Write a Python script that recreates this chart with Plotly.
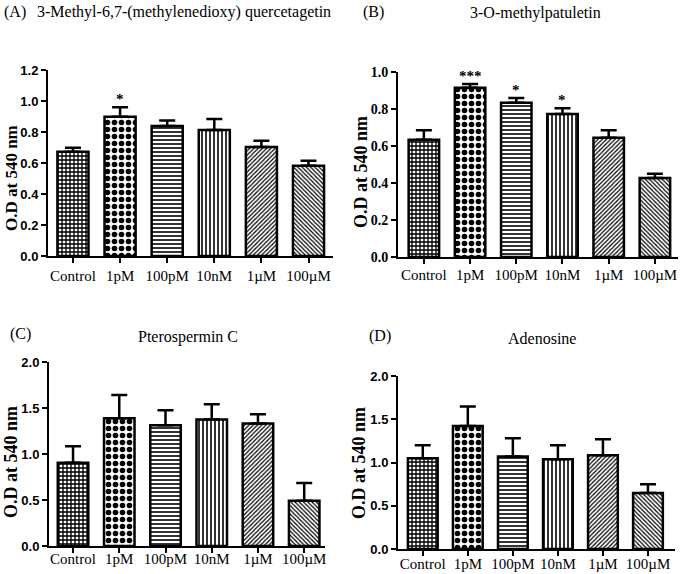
import plotly.graph_objects as go

# concentrations on the x axis
categories = ["Control", "1pM", "100pM", "10nM", "1µM", "100µM"]
positions = list(range(len(categories)))

# panel A - 3-Methyl-6,7-(methylenedioxy) quercetagetin
a_mean = [0.673, 0.899, 0.839, 0.813, 0.703, 0.583]
a_err = [0.026, 0.060, 0.036, 0.071, 0.041, 0.032]
a_stars = ["", "*", "", "", "", ""]

# panel B - 3-O-methylpatuletin
b_mean = [0.634, 0.915, 0.834, 0.773, 0.645, 0.427]
b_err = [0.051, 0.020, 0.025, 0.031, 0.040, 0.023]
b_stars = ["", "***", "*", "*", "", ""]

# panel C - Pterospermin C
c_mean = [0.904, 1.389, 1.313, 1.374, 1.331, 0.492]
c_err = [0.181, 0.253, 0.163, 0.167, 0.101, 0.192]

# panel D - Adenosine
d_mean = [1.050, 1.423, 1.069, 1.038, 1.085, 0.646]
d_err = [0.150, 0.223, 0.212, 0.162, 0.184, 0.104]

y_title = "O.D at 540 nm"

W, H = 685, 574

# fill pattern for each concentration (shape, size, solidity)
patterns = [("+", 4, 0.55), (".", 7, 0.5), ("-", 4, 0.4),
            ("|", 4, 0.4), ("/", 3, 0.4), ("\\", 3, 0.4)]

SERIF = "Liberation Serif"
SANS = "Liberation Sans"


def px_x(p):
    return p / W


def px_y(p):
    return 1 - p / H


panels = [
    dict(mean=a_mean, err=a_err, stars=a_stars, ax="", xs=(48, 333), ys=(256, 70),
         yr=[0, 1.2], dt=0.2, xr=[-0.53, 5.52], tf=SANS, tfs=13,
         ts=17, tpos=(11, 178), lo=0),
    dict(mean=b_mean, err=b_err, stars=b_stars, ax="2", xs=(398, 678), ys=(257, 72),
         yr=[0, 1.0], dt=0.2, xr=[-0.56, 5.5], tf=SERIF, tfs=14,
         ts=18, tpos=(361, 172), lo=-2),
    dict(mean=c_mean, err=c_err, stars=None, ax="3", xs=(49, 325), ys=(546, 362),
         yr=[0, 2.0], dt=0.5, xr=[-0.52, 5.45], tf=SANS, tfs=13,
         ts=18, tpos=(11, 462), lo=-7),
    dict(mean=d_mean, err=d_err, stars=None, ax="4", xs=(398, 675), ys=(549, 376),
         yr=[0, 2.0], dt=0.5, xr=[-0.55, 5.6], tf=SANS, tfs=13,
         ts=18, tpos=(359, 463), lo=-5),
]

fig = go.Figure()
layout = {}
annotations = []

for p in panels:
    xa = "x" + p["ax"]
    ya = "y" + p["ax"]
    fig.add_trace(go.Bar(
        x=positions, y=p["mean"], xaxis=xa, yaxis=ya,
        width=0.66,
        marker=dict(
            color="white",
            line=dict(color="black", width=2.5),
            pattern=dict(
                shape=[s[0] for s in patterns],
                size=[s[1] for s in patterns],
                solidity=[s[2] for s in patterns],
                fgcolor="black", bgcolor="white", fillmode="replace",
            ),
        ),
        error_y=dict(type="data", symmetric=False, array=p["err"],
                     arrayminus=[0] * len(p["err"]),
                     color="black", thickness=2.5, width=8),
        showlegend=False,
        hoverinfo="skip",
    ))

    layout["xaxis" + p["ax"]] = dict(
        domain=[px_x(p["xs"][0]), px_x(p["xs"][1])],
        anchor=ya, range=p["xr"], automargin=False,
        tickmode="array", tickvals=positions, ticktext=categories,
        showline=True, linecolor="black", linewidth=2,
        ticks="outside", ticklen=5, tickwidth=2, tickcolor="black",
        ticklabelstandoff=p["lo"],
        tickfont=dict(family=SERIF, size=15, color="black"),
        showgrid=False, zeroline=False, fixedrange=True,
    )
    layout["yaxis" + p["ax"]] = dict(
        domain=[px_y(p["ys"][0]), px_y(p["ys"][1])],
        anchor=xa, range=p["yr"], dtick=p["dt"], tickformat=".1f", automargin=False,
        showline=True, linecolor="black", linewidth=2,
        ticks="outside", ticklen=5, tickwidth=2, tickcolor="black",
        tickfont=dict(family=p["tf"], size=p["tfs"], color="black", weight="bold"),
        showgrid=False, zeroline=False, fixedrange=True,
    )

    # y axis title, placed by hand (it sits a little below the axis centre)
    annotations.append(dict(
        x=px_x(p["tpos"][0]), y=px_y(p["tpos"][1]), xref="paper", yref="paper",
        text=y_title, textangle=-90, showarrow=False,
        xanchor="center", yanchor="middle",
        font=dict(family=SERIF, size=p["ts"], color="black", weight="bold"),
    ))

    if p["stars"]:
        for x, m, e, s in zip(positions, p["mean"], p["err"], p["stars"]):
            if s:
                annotations.append(dict(
                    x=x, y=m + e, xref=xa, yref=ya, text=s, showarrow=False,
                    yanchor="bottom", yshift=-2,
                    font=dict(family=SERIF, size=15, color="black", weight="bold"),
                ))

# panel labels and titles (pixel positions converted to paper)
titles = [
    ("(A)", 2, 12, "left"),
    ("3-Methyl-6,7-(methylenedioxy) quercetagetin", 35, 12, "left"),
    ("(B)", 361, 12, "left"),
    ("3-O-methylpatuletin", 535, 13, "center"),
    ("(C)", 8, 334, "left"),
    ("Pterospermin C", 188, 337, "center"),
    ("(D)", 367, 336, "left"),
    ("Adenosine", 542, 338, "center"),
]
for text, x, y, anchor in titles:
    annotations.append(dict(
        x=px_x(x), y=px_y(y), xref="paper", yref="paper", text=text,
        showarrow=False, xanchor=anchor, yanchor="middle",
        font=dict(family=SERIF, size=16, color="black"),
    ))

fig.update_layout(
    width=W, height=H,
    margin=dict(l=0, r=0, t=0, b=0, autoexpand=False),
    paper_bgcolor="white", plot_bgcolor="white",
    annotations=annotations,
    **layout,
)

# drop the page's default body margin so the figure sits at the window corner
fig.write_html("out.html", config={"displayModeBar": False},
               post_script="document.body.style.margin = '0';")
